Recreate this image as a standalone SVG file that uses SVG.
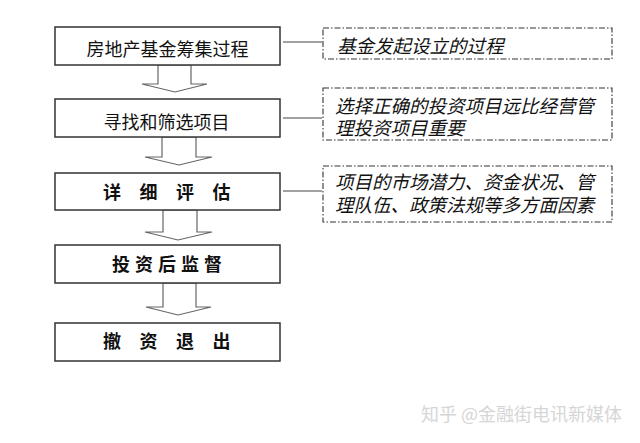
<svg xmlns="http://www.w3.org/2000/svg" width="640" height="443" viewBox="0 0 640 443">
<style>
.box{fill:#fff;stroke:#333;stroke-width:1.5}
.note{fill:#fff;stroke:#333;stroke-width:1.1;stroke-dasharray:6 2 1.5 2}
.arrow{fill:#fff;stroke:#666;stroke-width:1.2;stroke-linejoin:miter}
.link{stroke:#444;stroke-width:1.2;fill:none}
.t{font-family:"Noto Sans CJK SC","Noto Sans",sans-serif;font-size:18px;fill:#111}
.b{font-weight:bold}
.i{font-family:"Liberation Sans","Noto Sans CJK SC",sans-serif;font-size:18.5px;fill:#111;font-style:italic}
.wm{font-family:"Noto Sans CJK SC","Noto Sans",sans-serif;font-size:18px;fill:#d6d6d6}
</style>
<rect width="640" height="443" fill="#fff"/>
<g id="connectors">
<polygon class="arrow" points="158,65 191,65 191,84 207,84 175,92 142,84 158,84"/>
<polygon class="arrow" points="162,137 196,137 196,157 212,157 179,165 145,157 162,157"/>
<polygon class="arrow" points="163,210 197,210 197,232 212,232 178,240 145,232 163,232"/>
<polygon class="arrow" points="163,283 196,283 196,307 211,307 178,315 146,307 163,307"/>
<line class="link" x1="283" y1="42" x2="322" y2="42"/>
<line class="link" x1="283" y1="118" x2="322" y2="118"/>
<line class="link" x1="283" y1="191" x2="322" y2="191"/>
</g>
<g id="n1">
<rect class="box" x="55" y="27" width="225" height="38"/>
<text class="t" x="167.5" y="56" text-anchor="middle" font-size="18.5">房地产基金筹集过程</text>
</g>
<g id="n2">
<rect class="box" x="55" y="99" width="225" height="38"/>
<text class="t" x="166.5" y="129" text-anchor="middle">寻找和筛选项目</text>
</g>
<g id="n3">
<rect class="box" x="55" y="173" width="225" height="37"/>
<text class="t b" x="103 139.5 176 212.5" y="199">详细评估</text>
</g>
<g id="n4">
<rect class="box" x="55" y="245" width="225" height="38"/>
<text class="t b" x="112 135 158 181 204" y="271">投资后监督</text>
</g>
<g id="n5">
<rect class="box" x="55" y="323" width="225" height="38"/>
<text class="t b" x="103 139.5 176 212.5" y="348">撤资退出</text>
</g>
<g id="note1">
<rect class="note" x="323" y="28" width="289" height="31"/>
<text class="i" x="337" y="53">基金发起设立的过程</text>
</g>
<g id="note2">
<rect class="note" x="323" y="88" width="289" height="52"/>
<text class="i"><tspan x="335" y="112.5">选择正确的投资项目远比经营管</tspan><tspan x="335" y="135">理投资项目重要</tspan></text>
</g>
<g id="note3">
<rect class="note" x="323" y="166" width="289" height="56"/>
<text class="i"><tspan x="335" y="188.5">项目的市场潜力、资金状况、管</tspan><tspan x="335" y="212">理队伍、政策法规等多方面因素</tspan></text>
</g>
<text class="wm" x="622" y="421" text-anchor="end">知乎 @金融街电讯新媒体</text>
</svg>
